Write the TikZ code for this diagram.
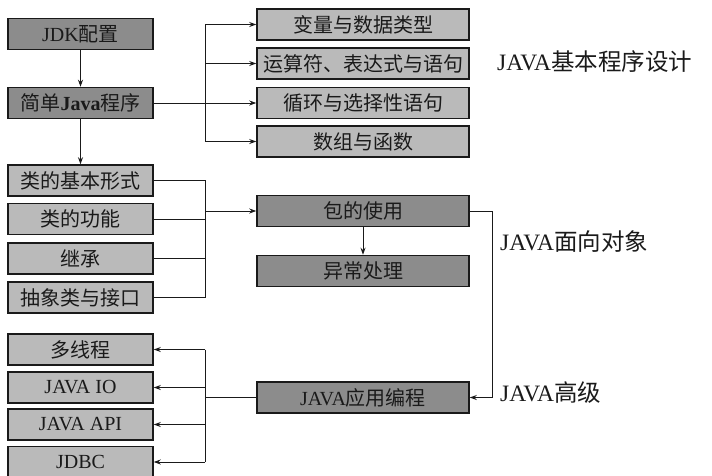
\documentclass[tikz,border=0pt]{standalone}
\usepackage{fontspec}
\setmainfont{Liberation Serif}
\newfontfamily\cjk{Noto Sans CJK SC}
\usetikzlibrary{arrows.meta}
\newcommand{\zh}[1]{{\cjk #1}}
\definecolor{darkfill}{HTML}{8C8C8C}
\definecolor{lightfill}{HTML}{BABABA}
\definecolor{ink}{HTML}{1A1A1A}
\begin{document}
\begin{tikzpicture}[x=1pt,y=-1pt,
  boxbase/.style={draw=ink,line width=1.5pt,inner sep=0pt,minimum height=31pt,
    font=\fontsize{20}{22}\selectfont,text=ink},
  leftbox/.style={boxbase,minimum width=145pt},
  rightbox/.style={boxbase,minimum width=212pt},
  dk/.style={fill=darkfill},
  lt/.style={fill=lightfill},
  conn/.style={draw=ink,line width=0.9pt},
  arr/.style={conn,-{Stealth[length=7pt,width=5pt]}},
  lab/.style={anchor=west,inner sep=0pt,font=\fontsize{23.5}{26}\selectfont,text=ink}]
\useasboundingbox (0,0) rectangle (712,475);

% left column
\node[leftbox,dk] (jdk)  at (80.5,34)  {JDK\zh{配置}};
\node[leftbox,dk] (jian) at (80.5,103) {\zh{简单}\textbf{Java}\zh{程序}};
\node[leftbox,lt] (c1) at (80.5,180.5) {\zh{类的基本形式}};
\node[leftbox,lt] (c2) at (80.5,219)   {\zh{类的功能}};
\node[leftbox,lt] (c3) at (80.5,258.5) {\zh{继承}};
\node[leftbox,lt] (c4) at (80.5,297.5) {\zh{抽象类与接口}};
\node[leftbox,lt] (m1) at (80.5,349.5) {\zh{多线程}};
\node[leftbox,lt] (m2) at (80.5,387.5) {JAVA IO};
\node[leftbox,lt] (m3) at (80.5,424.5) {JAVA API};
\node[leftbox,lt] (m4) at (80.5,462)   {JDBC};

% right column
\node[rightbox,lt] (t1) at (363,24.5)  {\zh{变量与数据类型}};
\node[rightbox,lt] (t2) at (363,63.5)  {\zh{运算符、表达式与语句}};
\node[rightbox,lt] (t3) at (363,103)   {\zh{循环与选择性语句}};
\node[rightbox,lt] (t4) at (363,141.5) {\zh{数组与函数}};
\node[rightbox,dk] (bao) at (363,211)  {\zh{包的使用}};
\node[rightbox,dk] (yc)  at (363,271)  {\zh{异常处理}};
\node[rightbox,dk] (yy)  at (363,397.5) {JAVA\zh{应用编程}};

% labels
\node[lab] (l1) at (497,62)  {JAVA\zh{基本程序设计}};
\node[lab] (l2) at (500,242) {JAVA\zh{面向对象}};
\node[lab] (l3) at (500,393) {JAVA\zh{高级}};

% junction coordinates
\coordinate (ja) at (205,0);
\coordinate (jb) at (205,211);
\coordinate (jc) at (492,0);

% connectors
\draw[arr] (jdk) -- (jian);
\draw[arr] (jian) -- (c1);
\draw[arr] (jian.east) -- (t3.west);
\draw[conn] (t1.west -| ja) -- (t4.west -| ja);
\draw[arr] (t1.west -| ja) -- (t1.west);
\draw[arr] (t2.west -| ja) -- (t2.west);
\draw[arr] (t4.west -| ja) -- (t4.west);

\draw[conn] (c1.east) -- (c1.east -| jb) -- (c4.east -| jb) -- (c4.east);
\draw[conn] (c2.east) -- (c2.east -| jb);
\draw[conn] (c3.east) -- (c3.east -| jb);
\draw[arr] (jb) -- (bao.west);

\draw[arr] (bao) -- (yc);
\draw[arr] (bao.east) -- (bao.east -| jc) -- (yy.east -| jc) -- (yy.east);

\draw[conn] (yy.west) -- (yy.west -| ja);
\draw[conn] (m1.east -| ja) -- (m4.east -| ja);
\draw[arr] (m1.east -| ja) -- (m1.east);
\draw[arr] (m2.east -| ja) -- (m2.east);
\draw[arr] (m3.east -| ja) -- (m3.east);
\draw[arr] (m4.east -| ja) -- (m4.east);
\end{tikzpicture}
\end{document}
